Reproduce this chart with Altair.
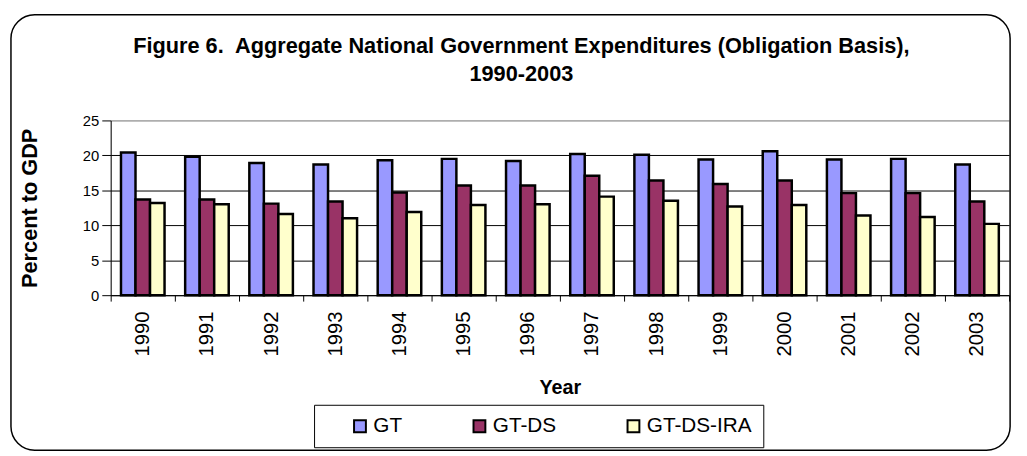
import altair as alt
import pandas as pd

years = [str(y) for y in range(1990, 2004)]
series = ["GT", "GT-DS", "GT-DS-IRA"]
gt = [20.4, 19.8, 18.9, 18.7, 19.3, 19.5, 19.2, 20.2, 20.1, 19.4, 20.6, 19.4, 19.5, 18.7]
gt_ds = [13.7, 13.7, 13.1, 13.4, 14.7, 15.7, 15.7, 17.1, 16.4, 15.9, 16.4, 14.6, 14.6, 13.4]
gt_ds_ira = [13.2, 13.0, 11.6, 11.0, 11.9, 12.9, 13.0, 14.1, 13.5, 12.7, 12.9, 11.4, 11.2, 10.2]
colors = ["#9999FF", "#993366", "#FFFFCC"]

rows = []
for i, y in enumerate(years):
    for s, vals in zip(series, [gt, gt_ds, gt_ds_ira]):
        rows.append({"Year": y, "Series": s, "Value": vals[i]})
df = pd.DataFrame(rows)

FONT = "Liberation Sans"

bars = alt.Chart(df).mark_bar(stroke="black", strokeWidth=2.5).encode(
    x=alt.X(
        "Year:N",
        sort=years,
        scale=alt.Scale(paddingInner=0, paddingOuter=0),
        axis=alt.Axis(
            title="Year",
            titleFont=FONT,
            titleFontSize=20,
            titleFontWeight="bold",
            titleColor="black",
            titleY=94,
            titleBaseline="middle",
            labelAngle=-90,
            labelFont=FONT,
            labelFontSize=20.5,
            labelColor="black",
            labelPadding=10,
            tickBand="extent",
            tickSize=6,
            tickColor="black",
            domainColor="black",
            grid=False,
        ),
    ),
    xOffset=alt.XOffset(
        "Series:N",
        sort=series,
        scale=alt.Scale(paddingOuter=0.71, paddingInner=0),
    ),
    y=alt.Y(
        "Value:Q",
        scale=alt.Scale(domain=[0, 25], nice=False),
        axis=alt.Axis(
            title="Percent to GDP",
            titleFont=FONT,
            titleFontSize=22,
            titleFontWeight="bold",
            titleColor="black",
            titleX=-82,
            titleY=88.5,
            titleBaseline="middle",
            titleAlign="center",
            values=[0, 5, 10, 15, 20, 25],
            labelFont=FONT,
            labelFontSize=15,
            labelColor="black",
            labelPadding=3,
            tickSize=9,
            tickColor="black",
            domainColor="black",
            gridColor={"condition": {"test": "datum.value == 25", "value": "#808080"}, "value": "black"},
            gridWidth=1,
        ),
    ),
    color=alt.Color(
        "Series:N",
        sort=series,
        scale=alt.Scale(domain=series, range=colors),
        legend=alt.Legend(
            title=None,
            orient="none",
            legendX=206,
            legendY=288,
            direction="horizontal",
            padding=11,
            strokeColor="black",
            fillColor="white",
            symbolType="square",
            symbolSize=144,
            symbolStrokeColor="black",
            symbolStrokeWidth=2,
            symbolOffset=25,
            labelFont=FONT,
            labelFontSize=21,
            labelColor="black",
            labelOffset=3,
            columnPadding=42,
        ),
    ),
)

frame = alt.Chart(pd.DataFrame({"k": [0]})).mark_rect(
    cornerRadius=24, filled=False, stroke="black", strokeWidth=1.5
).encode(
    x=alt.value(-101), x2=alt.value(911), y=alt.value(-107), y2=alt.value(334)
)

chart = alt.layer(frame, bars).properties(
    width=910,
    height=177,
    padding={"left": 104, "top": 111, "right": 10, "bottom": 160},
    autosize=alt.AutoSizeParams(type="none"),
    title=alt.TitleParams(
        text=["Figure 6.\u00a0 Aggregate National Government Expenditures (Obligation Basis),", "1990-2003"],
        font=FONT,
        fontSize=22,
        fontWeight="bold",
        color="black",
        anchor="middle",
        frame="group",
        dx=-39,
        offset=-95,
        lineHeight=29,
        baseline="bottom",
    ),
).configure_view(stroke="#808080", strokeWidth=2).configure(background="white")

chart.save("out.html", embed_options={"renderer": "svg", "actions": False})
